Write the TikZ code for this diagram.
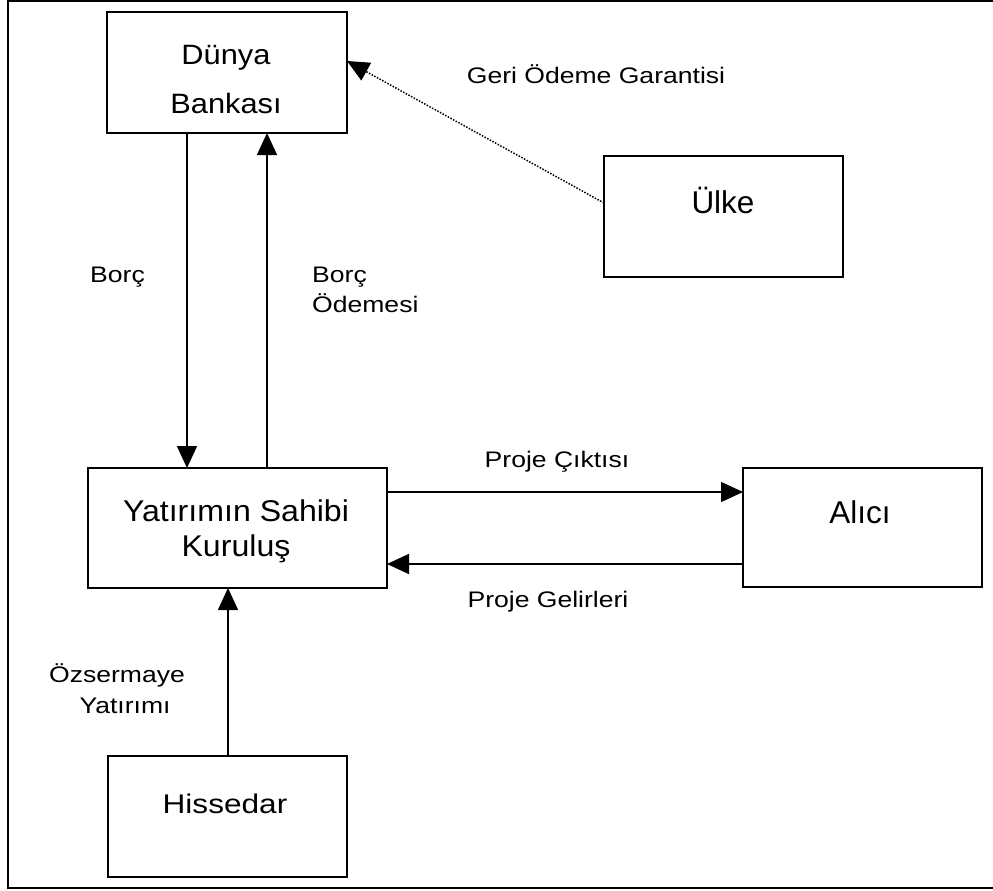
\documentclass[tikz,border=0pt]{standalone}
\usepackage{fontspec}
\setmainfont{Liberation Sans}
\newfontfamily\lblfont[FakeStretch=1.18]{Liberation Sans}
\usetikzlibrary{arrows.meta}
\begin{document}
\begin{tikzpicture}[x=1pt,y=-1pt,
  box/.style={draw,line width=1.8pt,outer sep=0pt,inner sep=0pt,rectangle},
  boxtxt/.style={inner sep=0pt,anchor=base},
  lbl/.style={inner sep=0pt,anchor=base,font=\lblfont\fontsize{22.5}{26}\selectfont},
  arr/.style={line width=1.5pt,-{Triangle[length=22pt,width=20pt]}},
  dotarr/.style={line width=1.5pt,dash pattern=on 1.5pt off 1.5pt,-{Triangle[length=22pt,width=20pt]}}]
\useasboundingbox (0,0) rectangle (993,891);
% outer frame (right side beyond the picture)
\draw[line width=2pt] (993,1.5) -- (8,1.5) -- (8,887.5) -- (993,887.5);
% boxes
\node[box,minimum width=240,minimum height=121] (dunya) at (227,72.5) {};
\node[box,minimum width=239,minimum height=121] (ulke) at (723.5,216.5) {};
\node[box,minimum width=299,minimum height=120] (kurulus) at (237.5,528) {};
\node[box,minimum width=239,minimum height=119] (alici) at (862.5,527.5) {};
\node[box,minimum width=239,minimum height=121] (hissedar) at (227.5,816.5) {};
% box texts
\node[boxtxt,font=\addfontfeatures{FakeStretch=1.1}\fontsize{28}{34}\selectfont] (t1) at (226,65) {Dünya};
\node[boxtxt,font=\addfontfeatures{FakeStretch=1.1}\fontsize{28}{34}\selectfont] (t2) at (226,113) {Bankası};
\node[boxtxt,font=\fontsize{31.5}{36}\selectfont] (t3) at (723,213) {Ülke};
\node[boxtxt,font=\addfontfeatures{FakeStretch=1.07}\fontsize{30}{36}\selectfont] (t4) at (236,521.5) {Yatırımın Sahibi};
\node[boxtxt,font=\addfontfeatures{FakeStretch=1.07}\fontsize{30}{36}\selectfont] (t5) at (236,556.5) {Kuruluş};
\node[boxtxt,font=\fontsize{31.5}{36}\selectfont] (t6) at (860,523) {Alıcı};
\node[boxtxt,font=\addfontfeatures{FakeStretch=1.17}\fontsize{27}{32}\selectfont] (t7) at (225,813) {Hissedar};
% helper coordinates
\coordinate (bx) at (187,0);
\coordinate (box2) at (267,0);
\coordinate (g1) at (0,203);
\coordinate (g2) at (0,61);
\coordinate (p1) at (0,492);
\coordinate (p2) at (0,564);
\coordinate (oz) at (228,0);
% connectors
\draw[arr] (dunya.south -| bx) -- (kurulus.north -| bx);
\draw[arr] (kurulus.north -| box2) -- (dunya.south -| box2);
\draw[dotarr] (ulke.west |- g1) -- (dunya.east |- g2);
\draw[arr] (kurulus.east |- p1) -- (alici.west |- p1);
\draw[arr] (alici.west |- p2) -- (kurulus.east |- p2);
\draw[arr] (hissedar.north -| oz) -- (kurulus.south -| oz);
% labels
\node[lbl] (l1) at (596,83) {Geri Ödeme Garantisi};
\node[lbl,anchor=base west] (l2) at (90,282) {Borç};
\node[lbl,anchor=base west] (l3) at (312,282) {Borç};
\node[lbl,anchor=base west] (l4) at (312,312) {Ödemesi};
\node[lbl] (l5) at (557,467) {Proje Çıktısı};
\node[lbl] (l6) at (548,607) {Proje Gelirleri};
\node[lbl] (l7) at (117,682) {Özsermaye};
\node[lbl] (l8) at (125,713) {Yatırımı};
\end{tikzpicture}
\end{document}
